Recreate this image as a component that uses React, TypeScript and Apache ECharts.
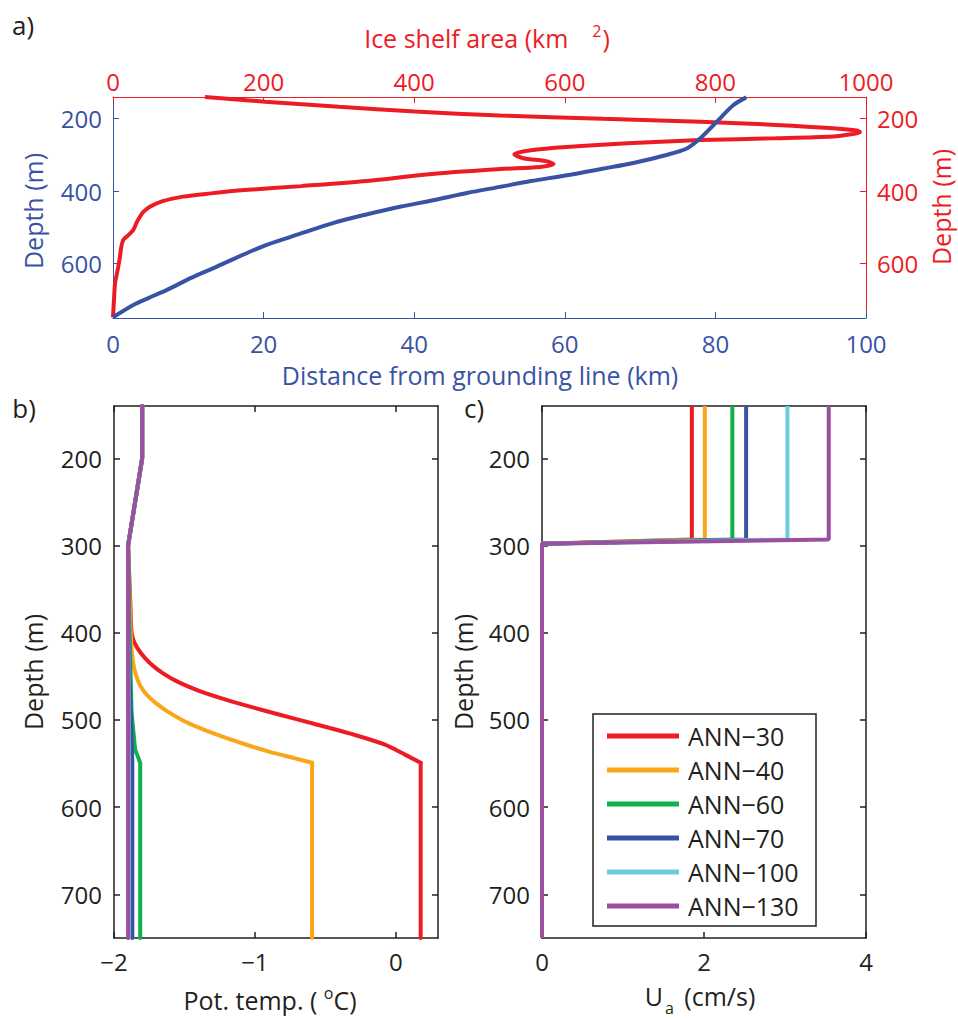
import React, { useEffect, useRef } from "react";
import * as echarts from "echarts";

// ---------------- data ----------------
// Panel a: [distance from grounding line (km), depth (m)]
const distanceProfile: number[][] = [
  [84.1, 141], [82.4, 162], [80.2, 208], [78.0, 254], [76.2, 282], [73.5, 300],
  [69.1, 322], [65.0, 338], [60.3, 356], [55.5, 372], [51.4, 388], [47.0, 405],
  [42.5, 425], [38.1, 443], [33.5, 465], [29.2, 488], [24.8, 518], [20.4, 548],
  [17.0, 578], [13.8, 608], [10.3, 640], [7.1, 673], [4.7, 695], [2.7, 714], [0, 748],
];
// Panel a: [ice shelf area (km^2), depth (m)]
const shelfAreaProfile: number[][] = [
  [122, 140], [160, 146], [202, 153], [300, 167], [401, 180], [514, 191], [650, 200],
  [780, 208], [880, 217], [956, 226], [985, 232], [992, 237], [980, 243], [956, 249],
  [880, 254], [780, 259], [690, 267], [602, 278], [555, 287], [533, 298], [545, 309],
  [575, 317], [585, 325], [567, 333], [514, 339], [420, 353], [337, 372], [250, 386],
  [175, 397], [130, 406], [93, 415], [65, 428], [49, 443], [40, 458], [36, 470],
  [31, 488], [27, 507], [20, 522], [13.5, 535], [10.5, 560], [9.3, 581], [7, 608],
  [4.5, 635], [2.7, 654], [1.3, 700], [0, 748],
];

const runNames = ["ANN−30", "ANN−40", "ANN−60", "ANN−70", "ANN−100", "ANN−130"];

// Panel b: [potential temperature (°C), depth (m)]
// common upper profile (all runs)
const tempUpper: number[][] = [[-1.8, 140], [-1.8, 200], [-1.9, 300]];
// warm transition of ANN−30 and ANN−40
const tempCurve30: number[][] = [
  [-1.9, 300], [-1.885, 362], [-1.875, 400], [-1.856, 411], [-1.811, 423], [-1.75, 434],
  [-1.657, 446], [-1.55, 456], [-1.405, 466], [-1.241, 475], [-1.073, 483], [-0.823, 494],
  [-0.588, 504], [-0.315, 516], [-0.081, 528], [0.069, 540], [0.177, 549],
];
const tempTail30: number[][] = [[0.177, 549], [0.177, 750]];
const tempCurve40: number[][] = [
  [-1.9, 300], [-1.885, 380], [-1.875, 420], [-1.858, 440], [-1.828, 456], [-1.793, 466],
  [-1.744, 475], [-1.7, 481], [-1.632, 489], [-1.517, 500], [-1.41, 508], [-1.285, 516],
  [-1.087, 527], [-0.907, 536], [-0.715, 544], [-0.594, 549],
];
const tempTail40: number[][] = [[-0.594, 549], [-0.594, 750]];
// colder runs below 300 m
const tempLower60: number[][] = [[-1.9, 300], [-1.89, 400], [-1.875, 492], [-1.85, 534], [-1.814, 549], [-1.814, 750]];
const tempLower70: number[][] = [[-1.9, 300], [-1.89, 450], [-1.875, 520], [-1.87, 549], [-1.87, 750]];
const tempLower100: number[][] = [[-1.9, 300], [-1.895, 549], [-1.895, 750]];
const tempLower130: number[][] = [[-1.9, 300], [-1.9, 750]];

// pieces per run: [data, smooth?]
const tempPieces: [number[][], boolean][][] = [
  [[tempUpper, false], [tempCurve30, true], [tempTail30, false]],
  [[tempUpper, false], [tempCurve40, true], [tempTail40, false]],
  [[tempUpper, false], [tempLower60, false]],
  [[tempUpper, false], [tempLower70, false]],
  [[tempUpper, false], [tempLower100, false]],
  [[tempUpper, false], [tempLower130, false]],
];

// Panel c: U_a (cm/s) in the upper layer, zero below the jump
const uaUpper = [1.85, 2.01, 2.35, 2.52, 3.03, 3.54];
const uaUpperDepths = [140, 293];
const uaLowerDepths = [298, 750];

// tick values
const areaTicks = [0, 200, 400, 600, 800, 1000];
const distanceTicks = [0, 20, 40, 60, 80, 100];
const depthTicksA = [200, 400, 600];
const depthTicksB = [200, 300, 400, 500, 600, 700];
const tempTicks = [-2, -1, 0];
const uaTicks = [0, 2, 4];

// ---------------- styles ----------------
const FONT = "'Open Sans', Lato, sans-serif";
const BLACK = "#231f20";
const BLUE = "#3953a4";
const RED = "#ed1c24";
const runColors = ["#ed1c24", "#faa61a", "#10b14b", "#3953a4", "#6dcbdb", "#9a4f9f"];
const TICK_FS = 24;
const TITLE_FS = 25;

const fmt = (v: number) => String(v).replace("-", "−");

function xAx(grid: number, pos: string, min: number, max: number, ticks: number[], color: string, showLabel: boolean, margin: number, lw: number) {
  return {
    type: "value", gridIndex: grid, position: pos, min, max,
    axisLine: { show: true, onZero: false, lineStyle: { color, width: lw } },
    axisTick: { show: true, inside: true, length: 6, customValues: ticks, lineStyle: { color, width: lw } },
    axisLabel: { show: showLabel, customValues: ticks, color, margin, fontFamily: FONT, fontSize: TICK_FS, formatter: fmt },
    splitLine: { show: false },
  };
}
function yAx(grid: number, pos: string, ticks: number[], color: string, showLabel: boolean, margin: number, lw: number) {
  return {
    type: "value", gridIndex: grid, position: pos, min: 140, max: 750, inverse: true,
    axisLine: { show: true, onZero: false, lineStyle: { color, width: lw } },
    axisTick: { show: true, inside: true, length: 6, customValues: ticks, lineStyle: { color, width: lw } },
    axisLabel: { show: showLabel, customValues: ticks, color, margin, fontFamily: FONT, fontSize: TICK_FS, formatter: fmt },
    splitLine: { show: false },
  };
}

function txt(text: string, x: number, y: number, color: string, size: number, rotation = 0, rich?: any) {
  return {
    type: "text", x, y, rotation,
    style: {
      text, fill: color, fontFamily: FONT, fontSize: size,
      align: "center", verticalAlign: "middle",
      textAlign: "center", textVerticalAlign: "middle",
      rich,
    },
  };
}

export default function App() {
  const ref = useRef<HTMLDivElement>(null);
  useEffect(() => {
    if (!ref.current) return;
    const chart = echarts.init(ref.current, undefined, { renderer: "svg" });

    const series: any[] = [];
    series.push({
      type: "line", name: "area", xAxisIndex: 1, yAxisIndex: 1, data: shelfAreaProfile,
      showSymbol: false, symbol: "none", smooth: 0.3, color: RED,
      lineStyle: { color: RED, width: 4 }, z: 2,
    });
    series.push({
      type: "line", name: "distance", xAxisIndex: 0, yAxisIndex: 0, data: distanceProfile,
      showSymbol: false, symbol: "none", smooth: 0.3, color: BLUE,
      lineStyle: { color: BLUE, width: 4 }, z: 3,
    });
    tempPieces.forEach((pieces, i) => {
      pieces.forEach(([d, sm]) => {
        series.push({
          type: "line", name: runNames[i], xAxisIndex: 2, yAxisIndex: 2, data: d,
          showSymbol: false, symbol: "none", color: runColors[i], smooth: sm ? 0.3 : false,
          itemStyle: { color: runColors[i] },
          lineStyle: { color: runColors[i], width: 4, cap: "round", join: "round" }, z: 2 + i * 0.01,
        });
      });
    });
    uaUpper.forEach((v, i) => {
      const d = [
        [v, uaUpperDepths[0]], [v, uaUpperDepths[1]],
        [0, uaLowerDepths[0]], [0, uaLowerDepths[1]],
      ];
      series.push({
        type: "line", name: runNames[i], xAxisIndex: 4, yAxisIndex: 4, data: d,
        showSymbol: false, symbol: "none", color: runColors[i],
        itemStyle: { color: runColors[i] },
        lineStyle: { color: runColors[i], width: 4 }, z: 2 + i * 0.01,
      });
    });

    const option: any = {
      animation: false,
      backgroundColor: "#ffffff",
      textStyle: { fontFamily: FONT },
      grid: [
        { left: 113, top: 97, width: 753, height: 221 },
        { left: 114, top: 406, width: 324, height: 532 },
        { left: 542, top: 406, width: 324, height: 532 },
      ],
      xAxis: [
        xAx(0, "bottom", 0, 100, distanceTicks, BLUE, true, 13, 1),
        xAx(0, "top", 0, 1000, areaTicks, RED, true, 4, 1),
        xAx(1, "bottom", -2, 0.3, tempTicks, BLACK, true, 11, 1.5),
        xAx(1, "top", -2, 0.3, tempTicks, BLACK, false, 8, 1.5),
        xAx(2, "bottom", 0, 4, uaTicks, BLACK, true, 11, 1.5),
        xAx(2, "top", 0, 4, uaTicks, BLACK, false, 8, 1.5),
      ],
      yAxis: [
        yAx(0, "left", depthTicksA, BLUE, true, 11, 1),
        yAx(0, "right", depthTicksA, RED, true, 11, 1),
        yAx(1, "left", depthTicksB, BLACK, true, 12, 1.5),
        yAx(1, "right", depthTicksB, BLACK, false, 8, 1.5),
        yAx(2, "left", depthTicksB, BLACK, true, 12, 1.5),
        yAx(2, "right", depthTicksB, BLACK, false, 8, 1.5),
      ],
      legend: {
        data: runNames, orient: "vertical", left: 607, top: 722, padding: 0,
        itemWidth: 72, itemHeight: 5, itemGap: 6, icon: "rect", selectedMode: false,
        textStyle: { fontFamily: FONT, fontSize: TITLE_FS, color: BLACK, lineHeight: 28, padding: [0, 0, 0, 4] },
        z: 10,
      },
      graphic: [
        {
          type: "rect", z: 5, shape: { x: 593, y: 714, width: 223, height: 212 },
          style: { fill: "#ffffff", stroke: BLACK, lineWidth: 1.5 },
        },
        txt("a)", 23, 25, BLACK, 26),
        txt("b)", 24, 408, BLACK, 26),
        txt("c)", 474, 408, BLACK, 26),
        txt("{a|Ice shelf area (km}{s|2}{a|)}", 487, 38, RED, TITLE_FS, 0, {
          a: { fontFamily: FONT, fontSize: TITLE_FS, lineHeight: 30, fill: RED, color: RED },
          s: { fontFamily: FONT, fontSize: 16, lineHeight: 16, verticalAlign: "top", padding: [0, 1, 0, 24], fill: RED, color: RED },
        }),
        txt("Distance from grounding line (km)", 480, 375, BLUE, TITLE_FS),
        txt("Depth (m)", 33, 211, BLUE, TITLE_FS, Math.PI / 2),
        txt("Depth (m)", 941, 207, RED, TITLE_FS, Math.PI / 2),
        txt("Depth (m)", 33, 672, BLACK, TITLE_FS, Math.PI / 2),
        txt("Depth (m)", 463, 672, BLACK, TITLE_FS, Math.PI / 2),
        txt("{a|Pot. temp. ( }{s|o}{a|C)}", 270, 1000, BLACK, TITLE_FS, 0, {
          a: { fontFamily: FONT, fontSize: TITLE_FS, lineHeight: 30, fill: BLACK, color: BLACK },
          s: { fontFamily: FONT, fontSize: 16, lineHeight: 16, verticalAlign: "top", fill: BLACK, color: BLACK },
        }),
        txt("{a|U}{s|a}{a| (cm/s)}", 700, 996, BLACK, TITLE_FS, 0, {
          a: { fontFamily: FONT, fontSize: TITLE_FS, lineHeight: 40, fill: BLACK, color: BLACK },
          s: { fontFamily: FONT, fontSize: 16, lineHeight: 16, verticalAlign: "bottom", padding: [0, 4, 0, 2], fill: BLACK, color: BLACK },
        }),
      ],
      series,
    };
    chart.setOption(option);
    return () => chart.dispose();
  }, []);
  return (
    <div
      ref={ref}
      style={{ position: "fixed", left: 0, top: 0, width: 958, height: 1020, background: "#fff" }}
    />
  );
}
